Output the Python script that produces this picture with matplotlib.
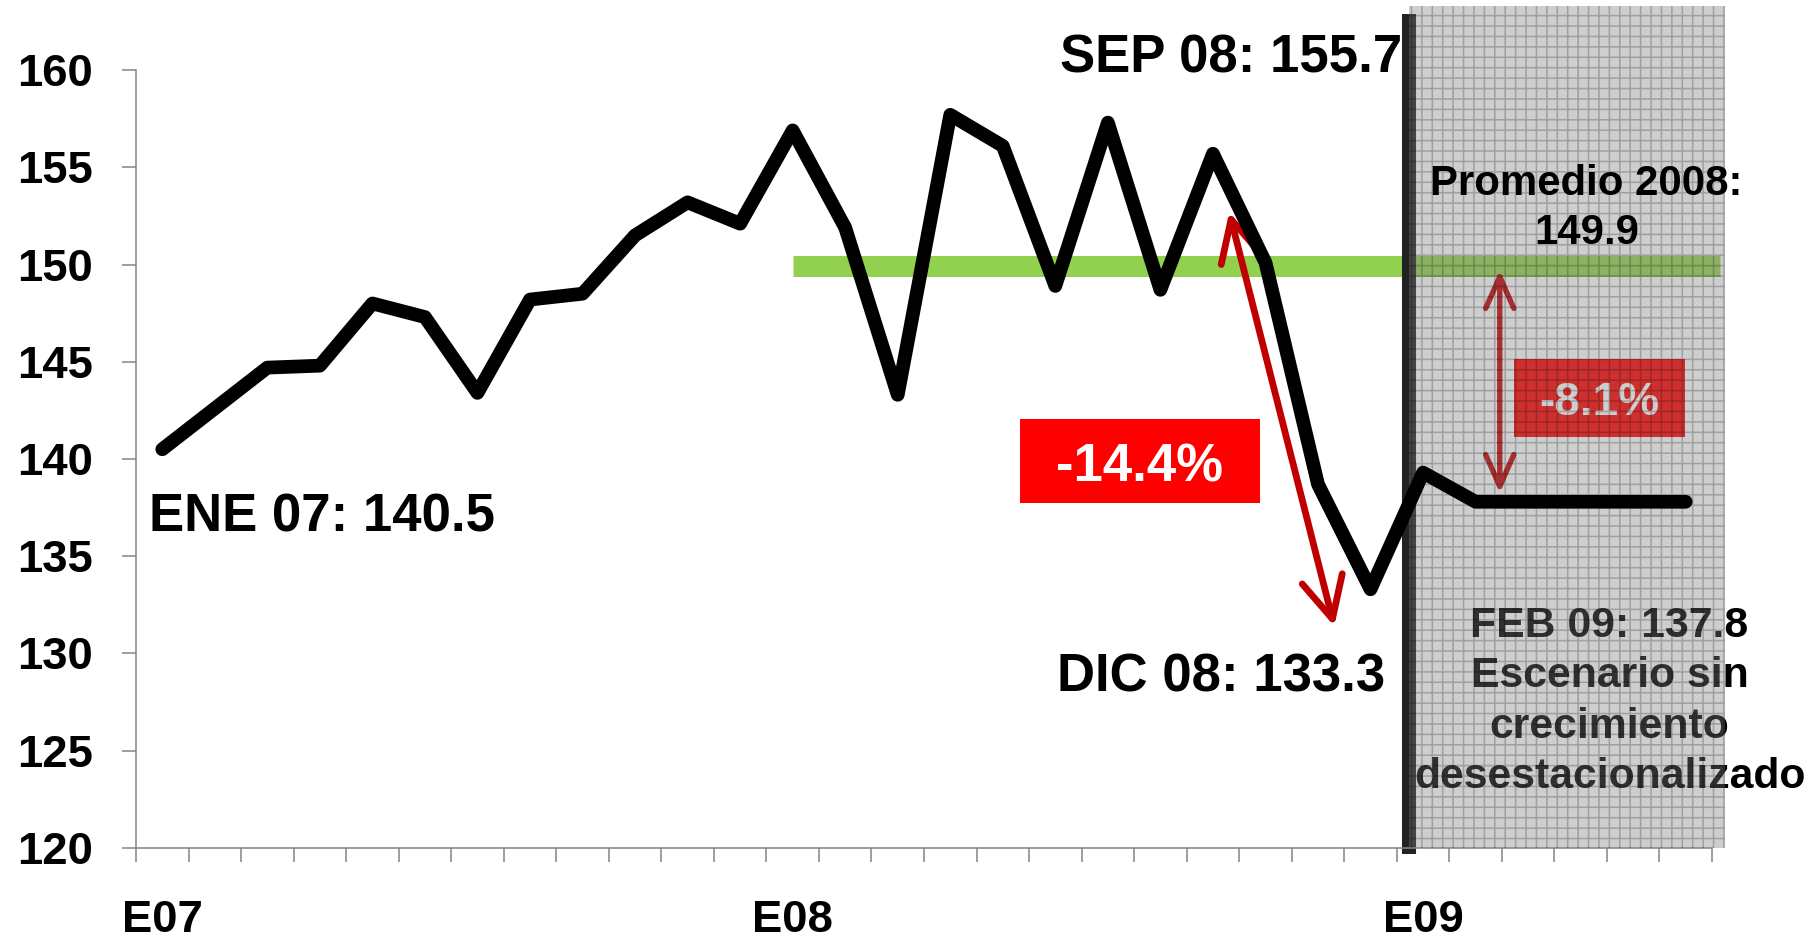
import numpy as np
import matplotlib.pyplot as plt
from matplotlib.patches import Rectangle, FancyArrowPatch, ArrowStyle

plt.rcParams['font.family'] = ['Liberation Sans', 'DejaVu Sans']
plt.rcParams['font.weight'] = 'bold'
plt.rcParams['hatch.linewidth'] = 0.9

# Monthly index, ENE 07 - JUN 09 (flat scenario from FEB 09)
meses = ["ENE", "FEB", "MAR", "ABR", "MAY", "JUN", "JUL", "AGO", "SEP", "OCT", "NOV", "DIC"]
months = [f"{m} {y}" for y in ["07", "08", "09"] for m in meses][:30]
index_values = [140.5, 142.6, 144.7, 144.8, 148.0, 147.3, 143.4, 148.2, 148.5, 151.5,
                153.2, 152.1, 156.9, 151.9, 143.3, 157.7, 156.1, 148.9, 157.3, 148.7,
                155.7, 150.1, 138.7, 133.3, 139.3, 137.8, 137.8, 137.8, 137.8, 137.8]
promedio_2008 = 149.9
caida_pico = "-14.4%"
caida_promedio = "-8.1%"
year_labels = ["E07", "E08", "E09"]
year_pos = [0, 12, 24]
y_ticks = [120, 125, 130, 135, 140, 145, 150, 155, 160]

DPI = 125
fig = plt.figure(figsize=(1819 / DPI, 939 / DPI), dpi=DPI)
ax = fig.add_axes([136 / 1819, 1 - 847.9 / 939, 1576 / 1819, 777.8 / 939])

x = np.arange(len(index_values))
grid_gray = '#868686'

# main series
ax.plot(x, index_values, color='black', lw=7.9, solid_capstyle='round',
        solid_joinstyle='round', zorder=5, clip_on=False)

# 2008 average
ax.plot([12, 29.65], [promedio_2008, promedio_2008], color='#92D050', lw=12.1,
        solid_capstyle='butt', zorder=2, clip_on=False)

# separator between observed and scenario
ax.plot([23.73, 23.73], [119.69, 162.89], color='#222222', lw=8.1,
        solid_capstyle='butt', zorder=2.5, clip_on=False)

# red arrow sep -> dic
arr = FancyArrowPatch((20.31, 152.7), (22.31, 131.4),
                      arrowstyle=ArrowStyle('<->', head_length=23.8, head_width=11.9),
                      color='#C00000', lw=3.9, shrinkA=0, shrinkB=0,
                      capstyle='round', joinstyle='round', zorder=3)
ax.add_patch(arr)
ax.add_patch(Rectangle((18.61 - 2.29, 139.9 - 2.16), 4.58, 4.32, fc='#FF0000',
                       ec='none', zorder=3))
ax.text(18.61, 138.83, caida_pico, color='white', fontsize=30.4, ha='center',
        va='baseline', zorder=3.5)

# double arrow promedio -> scenario
arr2 = FancyArrowPatch((25.46, 149.72), (25.46, 138.25),
                       arrowstyle=ArrowStyle('<->', head_length=18.3, head_width=8.1),
                       color='#C00000', lw=3.1, shrinkA=0, shrinkB=0,
                       capstyle='round', joinstyle='round', zorder=3)
ax.add_patch(arr2)
ax.add_patch(Rectangle((27.36 - 1.625, 143.14 - 2.0), 3.25, 4.01, fc='#FF0000',
                       ec='none', zorder=3))
ax.text(27.36, 142.26, caida_promedio, color='white', fontsize=26.5, ha='center',
        va='baseline', zorder=3.5)

# scenario text (under the shading)
feb_lines = [f"{months[25]}: {index_values[25]}", "Escenario sin", "crecimiento",
             "desestacionalizado"]
for line, yb in zip(feb_lines, [130.85, 128.26, 125.64, 123.07]):
    ax.text(27.55, yb, line, fontsize=24.6, ha='center', va='baseline',
            color='black', zorder=3)

# shaded scenario zone
ax.add_patch(Rectangle((23.73, 120), 6.015, 43.3, fc='#808080', alpha=0.38,
                       ec='none', zorder=4, clip_on=False))
ax.add_patch(Rectangle((23.73, 120), 6.015, 43.3, fc='none', ec=(0, 0, 0, 0.22),
                       lw=0, hatch='++', zorder=4.1, clip_on=False))

ax.text(27.11, 153.58, "Promedio 2008:", fontsize=24.2, ha='center', va='baseline', zorder=6)
ax.text(27.11, 151.06, f"{promedio_2008}", fontsize=24.2, ha='center', va='baseline', zorder=6)

# point labels
ax.text(-0.25, 136.25, f"{months[0]}: {index_values[0]}", fontsize=30.4,
        ha='left', va='baseline', zorder=6)
ax.text(23.60, 159.9, f"{months[20]}: {index_values[20]}", fontsize=30.4,
        ha='right', va='baseline', zorder=6)
ax.text(23.28, 128.02, f"{months[23]}: {index_values[23]}", fontsize=30.4,
        ha='right', va='baseline', zorder=6)

# axes
ax.set_xlim(-0.5, 29.5)
ax.set_ylim(120, 160)
ax.set_yticks(y_ticks)
ax.set_yticklabels([str(v) for v in y_ticks], fontsize=26.2)
ax.set_xticks(np.arange(-0.5, 30, 1))
ax.set_xticklabels([])
ax.set_xticks(year_pos, minor=True)
ax.set_xticklabels(year_labels, minor=True, fontsize=26.2)
ax.tick_params(axis='both', which='major', direction='out', length=8,
               width=0.9, color=grid_gray)
ax.tick_params(axis='y', pad=17)
ax.tick_params(axis='x', which='minor', length=0, pad=30)
for s in ['top', 'right']:
    ax.spines[s].set_visible(False)
for s in ['left', 'bottom']:
    ax.spines[s].set_color(grid_gray)
    ax.spines[s].set_linewidth(0.9)

fig.savefig('out.png', dpi=DPI)
